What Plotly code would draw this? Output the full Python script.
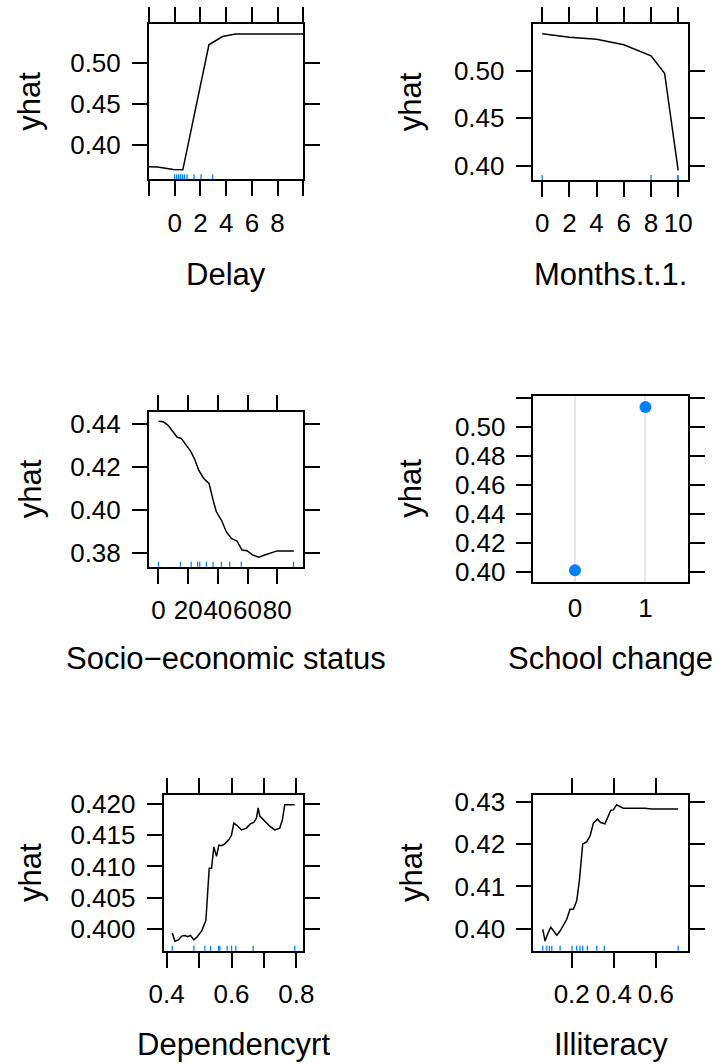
import plotly.graph_objects as go

# ---------------- data ----------------
delay_x = [-2, -1.35, -0.1, 0.63, 2.66, 3.72, 4.73, 6, 8, 10]
delay_y = [0.3737, 0.3733, 0.3704, 0.3700, 0.5223, 0.5324, 0.5356, 0.5357, 0.5356, 0.5356]
delay_rug = [0, 0.15, 0.3, 0.45, 0.6, 0.75, 0.95, 1.5, 2.05, 2.95]

months_x = [0, 1, 2, 4, 6, 8, 9, 10]
months_y = [0.5389, 0.5368, 0.5354, 0.5333, 0.5274, 0.5158, 0.4975, 0.3951]
months_rug = [0, 8, 9.95, 10]

socio_x = [0, 3.1, 6.5, 9.9, 12.5, 15.5, 18.4, 21.5, 24.4, 27.1, 30.5, 34.1, 36.8, 39.0,
           42.4, 45.7, 49.1, 52.9, 56.3, 59.6, 63.6, 67.7, 71.5, 76.0, 80.0, 86.1, 91.2]
socio_y = [0.4411, 0.4409, 0.4392, 0.4362, 0.4338, 0.4331, 0.4305, 0.4274, 0.4235, 0.4185,
           0.4146, 0.4123, 0.4046, 0.3992, 0.3954, 0.3900, 0.3869, 0.3857, 0.3815, 0.3812,
           0.3792, 0.3782, 0.3792, 0.3803, 0.3811, 0.3811, 0.3811]
socio_rug = [0, 14.8, 22.0, 26.4, 27.8, 32.3, 36.8, 42.4, 48.0, 55.8, 91.0]

school_cat = ["0", "1"]
school_y = [0.4014, 0.5136]

dep_x = [0.4174, 0.4256, 0.4359, 0.4462, 0.4564, 0.4646, 0.4738, 0.4841, 0.4944, 0.5077,
         0.5210, 0.5282, 0.5313, 0.5385, 0.5456, 0.5538, 0.5610, 0.5692, 0.5795, 0.5928,
         0.6000, 0.6072, 0.6174, 0.6308, 0.6462, 0.6585, 0.6687, 0.6769, 0.6821, 0.6872,
         0.7026, 0.7179, 0.7333, 0.7487, 0.7569, 0.7641, 0.7795, 0.7949]
dep_y = [0.3994, 0.3981, 0.3983, 0.3989, 0.3990, 0.3988, 0.3990, 0.3983, 0.3988, 0.3997,
         0.4014, 0.4073, 0.4097, 0.4097, 0.4131, 0.4116, 0.4134, 0.4133, 0.4136, 0.4143,
         0.4150, 0.4169, 0.4165, 0.4158, 0.4161, 0.4168, 0.4170, 0.4177, 0.4193, 0.4180,
         0.4172, 0.4164, 0.4158, 0.4161, 0.4174, 0.4198, 0.4198, 0.4198]
dep_rug = [0.4174, 0.4841, 0.5179, 0.5354, 0.5600, 0.5641, 0.5867, 0.6000, 0.6133, 0.6667, 0.7949]

ill_x = [0.0625, 0.0735, 0.0846, 0.1004, 0.1130, 0.1289, 0.1447, 0.1605, 0.1763, 0.1921,
         0.2079, 0.2237, 0.2364, 0.2522, 0.2711, 0.2870, 0.3028, 0.3217, 0.3375, 0.3581,
         0.3739, 0.3850, 0.3976, 0.4134, 0.4292, 0.4451, 0.5083, 0.5478, 0.5794, 0.6190, 0.7059]
ill_y = [0.3998, 0.3970, 0.3986, 0.4003, 0.3995, 0.3984, 0.3994, 0.4008, 0.4022, 0.4046,
         0.4046, 0.4066, 0.4114, 0.4201, 0.4206, 0.4220, 0.4250, 0.4260, 0.4252, 0.4249,
         0.4270, 0.4281, 0.4282, 0.4294, 0.4290, 0.4286, 0.4286, 0.4286, 0.4284, 0.4284, 0.4284]
ill_rug = [0.0625, 0.0814, 0.0941, 0.1051, 0.1447, 0.2016, 0.2237, 0.2395, 0.2522, 0.2743,
           0.3186, 0.3549, 0.7059]

# tick definitions
delay_xticks = [-2, 0, 2, 4, 6, 8, 10]
delay_xlabels = ["", "0", "2", "4", "6", "8", ""]
delay_yticks = [0.40, 0.45, 0.50]
months_xticks = [0, 2, 4, 6, 8, 10]
months_yticks = [0.40, 0.45, 0.50]
socio_xticks = [0, 20, 40, 60, 80]
socio_yticks = [0.38, 0.40, 0.42, 0.44]
school_yticks = [0.40, 0.42, 0.44, 0.46, 0.48, 0.50, 0.52]
school_ylabels = ["0.40", "0.42", "0.44", "0.46", "0.48", "0.50", ""]
dep_xticks = [0.4, 0.5, 0.6, 0.7, 0.8]
dep_xlabels = ["0.4", "", "0.6", "", "0.8"]
dep_yticks = [0.400, 0.405, 0.410, 0.415, 0.420]
ill_xticks = [0.2, 0.4, 0.6]
ill_yticks = [0.40, 0.41, 0.42, 0.43]

titles = ["Delay", "Months.t.1.", "Socio\u2212economic status", "School change", "Dependencyrt", "Illiteracy"]

# ---------------- layout helpers ----------------
W, H = 719, 1064
FONT = "Liberation Sans, Arial, Helvetica, sans-serif"
BLUE = "#0080FF"

# panel boxes in pixels: (left, right, top, bottom)
boxes = [
    (149, 303.3, 24.3, 179.3),
    (532.7, 687.7, 24.3, 180.0),
    (149, 303.3, 411.7, 566.7),
    (532.7, 687.7, 395.7, 581.7),
    (163.7, 303.3, 795.3, 950.7),
    (533.3, 687.7, 795.3, 950.7),
]
title_y_px = [275, 275, 658, 658, 1044, 1044]
ylab_x_px = [30, 410, 30, 411, 30, 411]


def pad(vals, frac=0.07):
    lo, hi = min(vals), max(vals)
    d = (hi - lo) * frac
    return [lo - d, hi + d]


def fmt(v, nd):
    return f"{v:.{nd}f}"


fig = go.Figure()

panels = [
    dict(x=delay_x, y=delay_y, rug=delay_rug, xr=[-2, 10], xt=delay_xticks, xl=delay_xlabels,
         yt=delay_yticks, yl=[fmt(v, 2) for v in delay_yticks]),
    dict(x=months_x, y=months_y, rug=months_rug, xr=pad(months_x), xt=months_xticks,
         xl=[str(v) for v in months_xticks], yt=months_yticks, yl=[fmt(v, 2) for v in months_yticks]),
    dict(x=socio_x, y=socio_y, rug=socio_rug, xr=pad(socio_x), xt=socio_xticks,
         xl=[str(v) for v in socio_xticks], yt=socio_yticks, yl=[fmt(v, 2) for v in socio_yticks]),
    None,
    dict(x=dep_x, y=dep_y, rug=dep_rug, xr=pad(dep_x), xt=dep_xticks, xl=dep_xlabels,
         yt=dep_yticks, yl=[fmt(v, 3) for v in dep_yticks]),
    dict(x=ill_x, y=ill_y, rug=ill_rug, xr=pad(ill_x), xt=ill_xticks,
         xl=[fmt(v, 1) for v in ill_xticks], yt=ill_yticks, yl=[fmt(v, 2) for v in ill_yticks]),
]

layout = dict(
    width=W, height=H, margin=dict(l=0, r=0, t=0, b=0, autoexpand=False),
    paper_bgcolor="white", plot_bgcolor="white", showlegend=False,
    font=dict(family=FONT, color="black"),
)
shapes = []
annotations = []

common_axis = dict(
    showline=True, linecolor="black", linewidth=2, mirror="allticks",
    ticks="outside", ticklen=15, tickwidth=1.8, tickcolor="black",
    tickfont=dict(size=26, family=FONT, color="black"), tickangle=0,
    zeroline=False, showgrid=False, fixedrange=True, automargin=False,
)

for i in range(6):
    n = i + 1
    xa = "x" if n == 1 else f"x{n}"
    ya = "y" if n == 1 else f"y{n}"
    xkey = "xaxis" if n == 1 else f"xaxis{n}"
    ykey = "yaxis" if n == 1 else f"yaxis{n}"
    l, r, t, b = boxes[i]
    xdom = [l / W, r / W]
    ydom = [1 - b / H, 1 - t / H]

    if i == 3:
        fig.add_trace(go.Scatter(x=school_cat, y=school_y, mode="markers", xaxis=xa, yaxis=ya,
                                 marker=dict(color=BLUE, size=12, line=dict(width=0))))
        xax = dict(common_axis)
        xax.update(domain=xdom, anchor=ya, type="category", range=[-0.6, 1.6],
                   ticks="", showgrid=True, gridcolor="#E6E6E6", gridwidth=1.5,
                   ticklabelstandoff=2)
        yax = dict(common_axis)
        yax.update(domain=ydom, anchor=xa, range=pad(school_y), tickvals=school_yticks,
                   ticktext=school_ylabels, ticklabelstandoff=5)
    else:
        p = panels[i]
        fig.add_trace(go.Scatter(x=p["x"], y=p["y"], mode="lines", xaxis=xa, yaxis=ya,
                                 line=dict(color="black", width=1.5)))
        for v in p["rug"]:
            shapes.append(dict(type="line", xref=xa, yref=f"{ya} domain", x0=v, x1=v,
                               y0=0.0, y1=0.032, line=dict(color=BLUE, width=1.3)))
        xax = dict(common_axis)
        xax.update(domain=xdom, anchor=ya, range=p["xr"], tickvals=p["xt"], ticktext=p["xl"],
                   ticklabelstandoff=4)
        yax = dict(common_axis)
        yax.update(domain=ydom, anchor=xa, range=pad(p["y"]), tickvals=p["yt"], ticktext=p["yl"],
                   ticklabelstandoff=6)
    layout[xkey] = xax
    layout[ykey] = yax

    # axis titles
    annotations.append(dict(text=titles[i], xref="paper", yref="paper",
                            x=(l + r) / 2 / W, y=1 - title_y_px[i] / H,
                            xanchor="center", yanchor="middle", showarrow=False,
                            font=dict(size=31, family=FONT, color="black")))
    annotations.append(dict(text="yhat", xref="paper", yref="paper",
                            x=ylab_x_px[i] / W, y=1 - (t + b) / 2 / H, textangle=-90,
                            xanchor="center", yanchor="middle", showarrow=False,
                            font=dict(size=31, family=FONT, color="black")))

layout["shapes"] = shapes
layout["annotations"] = annotations
fig.update_layout(**layout)
fig.write_html("out.html")
